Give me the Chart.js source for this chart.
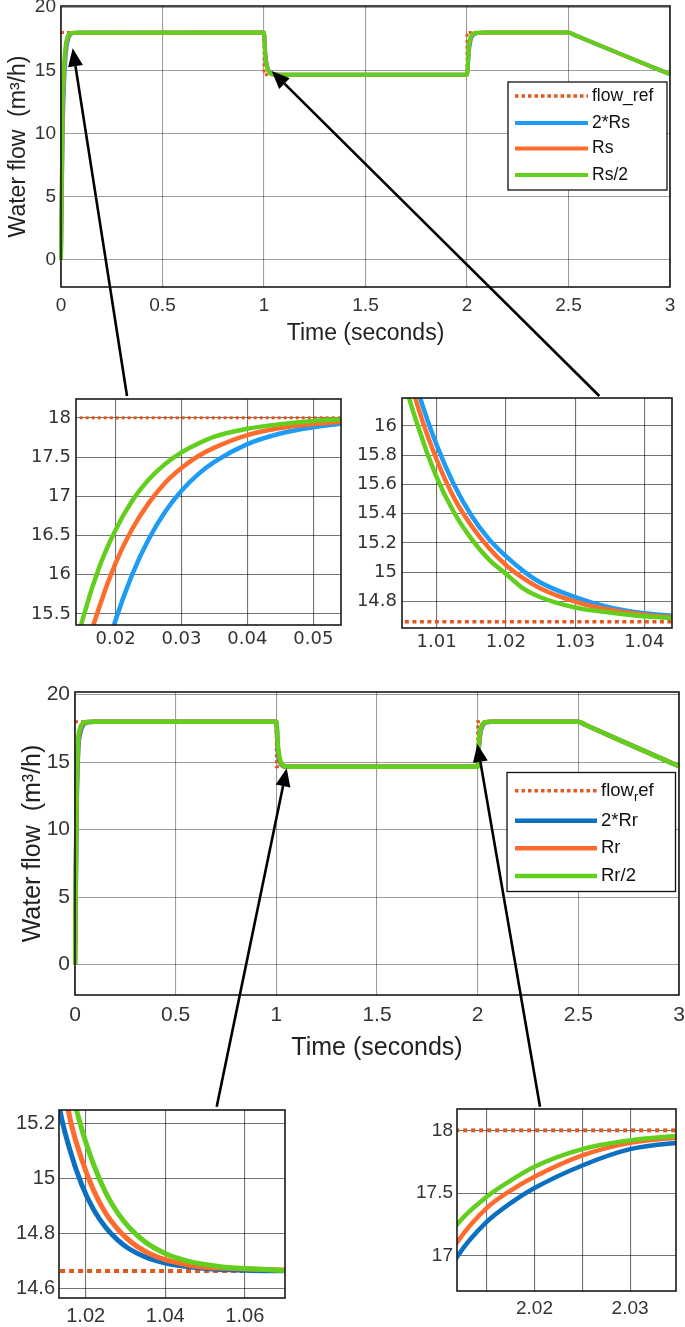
<!DOCTYPE html>
<html>
<head>
<meta charset="utf-8">
<script src="https://cdn.jsdelivr.net/npm/chart.js@4.4.1/dist/chart.umd.min.js"></script>
<style>
  html, body { margin: 0; padding: 0; background: #fff; }
  #page { position: relative; width: 685px; height: 1327px; overflow: hidden; }
  #page canvas, #page svg { position: absolute; left: 0; top: 0; }
</style>
</head>
<body>
<div id="page">
  <canvas id="c1" width="685" height="1327"></canvas>
  <canvas id="c2" width="685" height="1327"></canvas>
  <canvas id="c3" width="685" height="1327"></canvas>
  <canvas id="c4" width="685" height="1327"></canvas>
  <canvas id="c5" width="685" height="1327"></canvas>
  <canvas id="c6" width="685" height="1327"></canvas>
  <svg id="arrows" width="685" height="1327"></svg>
</div>
<script>
// reference flow, same for both tests
const tRef = [0, 1, 1, 2, 2, 2.5, 3];
const flowRef = [18, 18, 14.663, 14.663, 18, 18, 14.663];

// stator resistance test: 2*Rs, Rs, Rs/2
const tS2 = [0, 0.009, 0.0175, 0.02, 0.0225, 0.025, 0.0275, 0.03, 0.0325, 0.035, 0.04, 0.045, 0.05, 0.055, 0.07, 0.1,
  1.0, 1.005, 1.0075, 1.01, 1.0125, 1.015, 1.0175, 1.02, 1.0225, 1.025, 1.03, 1.035, 1.04, 1.045, 1.055, 1.08,
  2.0, 2.01, 2.02, 2.03, 2.05, 2.1, 2.5, 2.53, 2.75, 3.0];
const yS2 = [0, 10.5, 14.67, 15.42, 16.0, 16.45, 16.8, 17.07, 17.28, 17.44, 17.665, 17.8, 17.88, 17.93, 17.98, 18,
  18, 16.65, 16.21, 15.87, 15.60, 15.39, 15.23, 15.11, 15.01, 14.93, 14.83, 14.76, 14.72, 14.70, 14.677, 14.665,
  14.665, 16.6, 17.5, 17.8, 17.95, 18, 18, 17.8, 16.34, 14.7];

const tS1 = [0, 0.008, 0.015, 0.0175, 0.02, 0.0225, 0.025, 0.0275, 0.03, 0.0325, 0.035, 0.04, 0.045, 0.05, 0.055, 0.08,
  1.0, 1.005, 1.0075, 1.01, 1.0125, 1.015, 1.0175, 1.02, 1.0225, 1.025, 1.03, 1.035, 1.04, 1.045, 1.055, 1.08,
  2.0, 2.01, 2.02, 2.03, 2.05, 2.1, 2.5, 2.53, 2.75, 3.0];
const yS1 = [0, 11, 14.84, 15.58, 16.15, 16.58, 16.91, 17.17, 17.36, 17.51, 17.62, 17.78, 17.87, 17.92, 17.955, 17.99,
  18, 16.54, 16.10, 15.77, 15.51, 15.32, 15.17, 15.05, 14.96, 14.89, 14.80, 14.744, 14.711, 14.692, 14.674, 14.665,
  14.665, 16.9, 17.6, 17.87, 17.97, 18, 18, 17.8, 16.34, 14.7];

const tS05 = [0, 0.007, 0.0125, 0.015, 0.0175, 0.02, 0.0225, 0.025, 0.0275, 0.03, 0.0325, 0.035, 0.04, 0.045, 0.05, 0.055, 0.07,
  1.0, 1.005, 1.0075, 1.01, 1.0125, 1.015, 1.0175, 1.02, 1.0225, 1.025, 1.03, 1.035, 1.04, 1.045, 1.055, 1.08,
  2.0, 2.01, 2.02, 2.03, 2.05, 2.1, 2.5, 2.53, 2.75, 3.0];
const yS05 = [0, 11.5, 14.55, 15.43, 16.09, 16.57, 16.94, 17.21, 17.41, 17.56, 17.67, 17.76, 17.86, 17.92, 17.96, 17.98, 17.99,
  18, 16.39, 15.97, 15.65, 15.41, 15.23, 15.09, 14.99, 14.89, 14.83, 14.76, 14.726, 14.70, 14.686, 14.671, 14.665,
  14.665, 17.1, 17.7, 17.92, 17.98, 18, 18, 17.8, 16.34, 14.7];

// rotor resistance test: 2*Rr, Rr, Rr/2
const tR2 = [0, 0.008, 0.016, 0.025, 0.04, 0.06, 0.1,
  1.0, 1.0068, 1.0135, 1.016, 1.019, 1.022, 1.025, 1.028, 1.031, 1.035, 1.04, 1.045, 1.05, 1.06, 1.08,
  2.0, 2.006, 2.0119, 2.015, 2.0175, 2.02, 2.025, 2.03, 2.0348, 2.05, 2.07, 2.5, 2.53, 2.75, 3.0];
const yR2 = [0, 11.5, 15.9, 17.1, 17.75, 17.95, 18,
  18, 15.92, 15.25, 15.105, 14.977, 14.886, 14.822, 14.776, 14.743, 14.714, 14.692, 14.68, 14.672, 14.666, 14.663,
  14.663, 16.1, 16.99, 17.27, 17.42, 17.54, 17.72, 17.85, 17.90, 17.97, 17.99, 18, 17.8, 16.34, 14.7];

const tR1 = [0, 0.008, 0.016, 0.025, 0.04, 0.06, 0.1,
  1.0, 1.0072, 1.0156, 1.019, 1.022, 1.025, 1.028, 1.031, 1.035, 1.04, 1.045, 1.05, 1.06, 1.08,
  2.0, 2.006, 2.0119, 2.015, 2.0175, 2.02, 2.025, 2.03, 2.0348, 2.05, 2.07, 2.5, 2.53, 2.75, 3.0];
const yR1 = [0, 12.2, 16.3, 17.35, 17.85, 17.97, 18,
  18, 16.12, 15.25, 15.069, 14.956, 14.874, 14.816, 14.773, 14.734, 14.704, 14.687, 14.677, 14.671, 14.664,
  14.663, 16.3, 17.106, 17.38, 17.52, 17.63, 17.80, 17.90, 17.94, 17.98, 17.99, 18, 17.8, 16.34, 14.7];

const tR05 = [0, 0.008, 0.016, 0.025, 0.04, 0.06, 0.1,
  1.0, 1.008, 1.016, 1.019, 1.022, 1.025, 1.028, 1.031, 1.035, 1.04, 1.045, 1.05, 1.055, 1.06, 1.07, 1.09,
  2.0, 2.006, 2.0119, 2.015, 2.0175, 2.02, 2.025, 2.03, 2.0348, 2.05, 2.07, 2.5, 2.53, 2.75, 3.0];
const yR05 = [0, 12.8, 16.6, 17.5, 17.9, 17.98, 18,
  18, 16.22, 15.36, 15.18, 15.05, 14.949, 14.875, 14.82, 14.768, 14.727, 14.702, 14.687, 14.677, 14.672, 14.665, 14.663,
  14.663, 16.5, 17.248, 17.47, 17.60, 17.71, 17.85, 17.92, 17.955, 17.99, 18, 18, 17.8, 16.34, 14.7];

const labelsS = ['flow_ref', '2*Rs', 'Rs', 'Rs/2'];
const labelsR = ['flow_{r}ef', '2*Rr', 'Rr', 'Rr/2'];

const REF = '#E4571F', ORANGE = '#FF6B2C', GREEN = '#62CE1E';
const BLUE_S = '#1E9BF5', BLUE_R = '#0B6FC2';
const SANS = "'Liberation Sans', Arial, sans-serif";
const WIDE = "'DejaVu Sans', sans-serif";

function pts(xs, ys) {
  return xs.map((x, i) => ({ x: x, y: ys[i] }));
}

function buildDatasets(labels, runs, blue, st) {
  const colors = [blue, ORANGE, GREEN];
  const ds = [{
    label: labels[0], data: pts(tRef, flowRef), borderColor: REF,
    borderWidth: st.refLw, borderDash: st.refDash, tension: 0, order: 3
  }];
  runs.forEach((r, i) => ds.push({
    label: labels[i + 1], data: pts(r[0], r[1]), borderColor: colors[i],
    borderWidth: st.lw, cubicInterpolationMode: 'monotone', order: 2 - i
  }));
  ds.forEach(d => { d.pointRadius = 0; d.fill = false; d.clip = st.clip; });
  return ds;
}

// box around the axes, drawn over the lines like matlab does
const frame = {
  id: 'frame',
  afterDatasetsDraw(chart) {
    const a = chart.chartArea, ctx = chart.ctx;
    ctx.save();
    ctx.strokeStyle = '#1a1a1a';
    ctx.lineWidth = 1.6;
    ctx.strokeRect(a.left, a.top, a.right - a.left, a.bottom - a.top);
    ctx.restore();
  }
};

// draws text with _{x} parts as subscripts
function drawRich(ctx, text, x, y, size) {
  const parts = text.split(/_\{(.*?)\}/);
  let cx = x;
  parts.forEach((p, i) => {
    const sub = i % 2 === 1;
    ctx.font = (sub ? size * 0.7 : size) + 'px ' + SANS;
    ctx.fillText(p, cx, sub ? y + size * 0.35 : y);
    cx += ctx.measureText(p).width;
  });
}

const boxLegend = {
  id: 'boxLegend',
  afterDraw(chart, args, o) {
    if (!o || !o.box) return;
    const ctx = chart.ctx, b = o.box;
    ctx.save();
    ctx.fillStyle = '#fff';
    ctx.fillRect(b[0], b[1], b[2], b[3]);
    ctx.strokeStyle = '#111';
    ctx.lineWidth = 1.3;
    ctx.strokeRect(b[0], b[1], b[2], b[3]);
    chart.data.datasets.forEach((d, i) => {
      const ry = o.rows[i];
      ctx.beginPath();
      ctx.setLineDash(d.borderDash ? o.dash : []);
      ctx.strokeStyle = d.borderColor;
      ctx.lineWidth = d.borderDash ? o.refLw : o.lw;
      ctx.moveTo(o.x1, ry);
      ctx.lineTo(o.x2, ry);
      ctx.stroke();
      ctx.setLineDash([]);
      ctx.fillStyle = '#111';
      ctx.textBaseline = 'middle';
      drawRich(ctx, d.label, o.tx, ry, o.size);
    });
    ctx.restore();
  }
};

Chart.register(frame, boxLegend);

const fmt = v => String(Math.round(v * 10000) / 10000);

function makeChart(id, c) {
  const W = 685, H = 1327;
  const [l, t, r, b] = c.plot;
  const fix = (s) => { s.paddingLeft = s.paddingRight = s.paddingTop = s.paddingBottom = 0; };
  const tickFont = { family: c.family, size: c.size };
  const grid = { color: c.gridColor, lineWidth: 1.1, drawTicks: false };
  new Chart(document.getElementById(id), {
    type: 'line',
    data: { datasets: c.datasets },
    options: {
      responsive: false,
      animation: false,
      devicePixelRatio: 1,
      layout: { autoPadding: false, padding: { left: l - c.yW, top: t, right: W - r, bottom: H - b - c.xH } },
      plugins: { legend: { display: false }, tooltip: { enabled: false }, boxLegend: c.legend || {} },
      scales: {
        x: {
          type: 'linear', min: c.x[0], max: c.x[1],
          afterFit: s => { s.height = c.xH; fix(s); },
          grid: grid, border: { display: false },
          ticks: {
            stepSize: c.x[2], includeBounds: false, autoSkip: false, maxRotation: 0, minRotation: 0,
            padding: c.xPad, color: '#333', font: tickFont, callback: c.xFmt || fmt
          },
          title: {
            display: !!c.xTitle, text: c.xTitle, color: '#222', padding: 0,
            font: { family: SANS, size: c.titleSize }
          }
        },
        y: {
          type: 'linear', min: c.y[0], max: c.y[1],
          afterFit: s => { s.width = c.yW; fix(s); },
          grid: grid, border: { display: false },
          ticks: {
            stepSize: c.y[2], includeBounds: false, autoSkip: false,
            padding: c.yPad, color: '#333', font: tickFont, callback: fmt
          },
          title: {
            display: !!c.yTitle, text: c.yTitle, color: '#222', padding: 0,
            font: { family: SANS, size: c.titleSize }
          }
        }
      }
    }
  });
}

const runsS = [[tS2, yS2], [tS1, yS1], [tS05, yS05]];
const runsR = [[tR2, yR2], [tR1, yR1], [tR05, yR05]];
const mainGrid = 'rgba(0,0,0,0.38)';
const zoomGrid = 'rgba(0,0,0,0.55)';

makeChart('c1', {
  plot: [61, 6, 670, 287], x: [0, 3, 0.5], y: [-2.15, 20.1, 5],
  yW: 55.8, xH: 60.8, family: SANS, size: 19, xPad: 7, yPad: 5,
  xTitle: 'Time (seconds)', yTitle: 'Water flow  (m³/h)', titleSize: 23, gridColor: mainGrid,
  datasets: buildDatasets(labelsS, runsS, BLUE_S, { lw: 4, refLw: 3, refDash: [3, 3], clip: 2 }),
  legend: { box: [508, 82, 159, 108], rows: [96, 123, 148.5, 175], x1: 515, x2: 588, tx: 592,
    size: 17.5, lw: 4, refLw: 3.5, dash: [3.5, 3] }
});

makeChart('c2', {
  plot: [76, 399, 341, 625], x: [0.014, 0.0542, 0.01], y: [15.36, 18.24, 0.5],
  yW: 50, xH: 25, family: WIDE, size: 18, xPad: 3.5, yPad: 5, gridColor: zoomGrid,
  datasets: buildDatasets(labelsS, runsS, BLUE_S, { lw: 4.5, refLw: 3, refDash: [3, 3], clip: 0 })
});

makeChart('c3', {
  plot: [402, 398, 672, 628], x: [1.005, 1.044, 0.01], y: [14.62, 16.19, 0.2],
  yW: 50, xH: 25, family: WIDE, size: 18, xPad: 4, yPad: 5, gridColor: zoomGrid,
  datasets: buildDatasets(labelsS, runsS, BLUE_S, { lw: 4.5, refLw: 3.5, refDash: [4, 3.5], clip: 0 })
});

makeChart('c4', {
  plot: [75, 692, 679, 995], x: [0, 3, 0.5], y: [-2.25, 20.2, 5],
  yW: 57, xH: 68, family: SANS, size: 21, xPad: 7.4, yPad: 5,
  xTitle: 'Time (seconds)', yTitle: 'Water flow  (m³/h)', titleSize: 25, gridColor: mainGrid,
  datasets: buildDatasets(labelsR, runsR, BLUE_R, { lw: 4.5, refLw: 3, refDash: [3, 3], clip: 2 }),
  legend: { box: [507, 772.5, 168.5, 119], rows: [790.7, 820.7, 848.3, 876], x1: 515, x2: 597, tx: 601,
    size: 18.5, lw: 4.5, refLw: 3.5, dash: [3.5, 3] }
});

makeChart('c5', {
  plot: [59, 1110, 285, 1298], x: [1.0133, 1.0701, 0.02], y: [14.565, 15.248, 0.2],
  yW: 50, xH: 25, family: SANS, size: 20, xPad: 6.7, yPad: 4, gridColor: zoomGrid,
  datasets: buildDatasets(labelsR, runsR, BLUE_R, { lw: 5, refLw: 4, refDash: [5, 4], clip: 0 })
});

makeChart('c6', {
  plot: [457, 1109, 676, 1291], x: [2.0119, 2.0348, 0.005], y: [16.72, 18.17, 0.5],
  yW: 50, xH: 25, family: SANS, size: 19, xPad: 6, yPad: 4, gridColor: zoomGrid,
  xFmt: v => (Math.abs(v * 100 - Math.round(v * 100)) < 1e-6 ? v.toFixed(2) : ''),
  datasets: buildDatasets(labelsR, runsR, BLUE_R, { lw: 4.5, refLw: 4, refDash: [4, 4], clip: 0 })
});

// pointer arrows from each zoom box to the spot it magnifies
const arrows = [
  [127, 396, 72.7, 48.3],
  [599.3, 396, 271.7, 71],
  [216.7, 1106.7, 286.7, 768.3],
  [540, 1106.7, 477.3, 744]
];
const NS = 'http://www.w3.org/2000/svg';
const svg = document.getElementById('arrows');
arrows.forEach(([x1, y1, x2, y2]) => {
  const ang = Math.atan2(y2 - y1, x2 - x1), L = 18, hw = 7.5;
  const bx = x2 - L * Math.cos(ang), by = y2 - L * Math.sin(ang);
  const line = document.createElementNS(NS, 'line');
  line.setAttribute('x1', x1); line.setAttribute('y1', y1);
  line.setAttribute('x2', bx); line.setAttribute('y2', by);
  line.setAttribute('stroke', '#000'); line.setAttribute('stroke-width', 2.6);
  svg.appendChild(line);
  const head = document.createElementNS(NS, 'polygon');
  const sx = hw * Math.sin(ang), sy = hw * Math.cos(ang);
  head.setAttribute('points', `${x2},${y2} ${bx + sx},${by - sy} ${bx - sx},${by + sy}`);
  head.setAttribute('fill', '#000');
  svg.appendChild(head);
});
</script>
</body>
</html>
